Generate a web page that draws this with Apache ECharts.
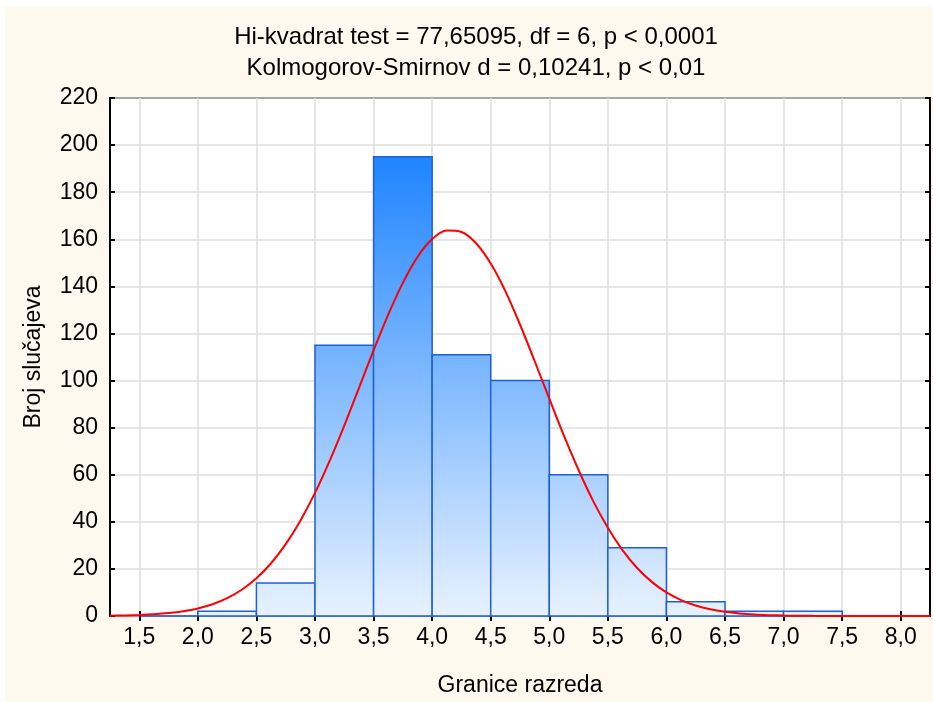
<!DOCTYPE html>
<html>
<head>
<meta charset="utf-8">
<script src="https://cdn.jsdelivr.net/npm/echarts@6/dist/echarts.min.js"></script>
<style>
html,body{margin:0;padding:0;background:#fff;}
#chart{width:933px;height:702px;}
</style>
</head>
<body>
<div id="chart"></div>
<script>
// Histogram bins (lower bound, upper bound) and counts
var binStart = [1.5, 2.0, 2.5, 3.0, 3.5, 4.0, 4.5, 5.0, 5.5, 6.0, 6.5, 7.0];
var binEnd   = [2.0, 2.5, 3.0, 3.5, 4.0, 4.5, 5.0, 5.5, 6.0, 6.5, 7.0, 7.5];
var counts   = [0, 2, 14, 115, 195, 111, 100, 60, 29, 6, 2, 2];

// Expected normal curve (x step 0.125)
var curveX = [1.25, 1.375, 1.5, 1.625, 1.75, 1.875, 2.0, 2.125, 2.25, 2.375, 2.5, 2.625, 2.75, 2.875,
              3.0, 3.125, 3.25, 3.375, 3.5, 3.625, 3.75, 3.875, 4.0, 4.125, 4.25, 4.375, 4.5, 4.625,
              4.75, 4.875, 5.0, 5.125, 5.25, 5.375, 5.5, 5.625, 5.75, 5.875, 6.0, 6.125, 6.25, 6.375,
              6.5, 6.625, 6.75, 6.875, 7.0, 7.125, 7.25, 7.375, 7.5, 7.625, 7.75, 7.875, 8.0, 8.125, 8.25];
var curveY = [0.13, 0.24, 0.43, 0.74, 1.24, 2.02, 3.22, 5.0, 7.56, 11.14, 16.0, 22.4, 30.5, 40.5,
              52.3, 65.9, 80.9, 96.8, 112.8, 128.0, 141.5, 152.5, 160.1, 163.7, 163.1, 158.3, 149.7, 138.0,
              123.8, 108.3, 92.3, 76.6, 62.0, 48.8, 37.5, 28.0, 20.4, 14.5, 10.0, 6.75, 4.43, 2.83,
              1.77, 1.07, 0.63, 0.37, 0.21, 0.11, 0.06, 0.03, 0.02, 0.01, 0, 0, 0, 0, 0];

// Axis ticks
var xTicks = [1.5, 2.0, 2.5, 3.0, 3.5, 4.0, 4.5, 5.0, 5.5, 6.0, 6.5, 7.0, 7.5, 8.0];
var xMin = 1.25, xMax = 8.25;
var yMin = 0, yMax = 220, yStep = 20;

var titleLines = ['Hi-kvadrat test = 77,65095, df = 6, p < 0,0001', 'Kolmogorov-Smirnov d = 0,10241, p < 0,01'];
var xName = 'Granice razreda';
var yName = 'Broj slučajeva';

var FONT = '"Liberation Sans", Arial, sans-serif';
var FS = 23;

var barData = binStart.map(function (s, i) { return [s, binEnd[i], counts[i]]; });
var curveData = curveX.map(function (x, i) { return [x, curveY[i]]; });

var barFill = {
  type: 'linear', x: 0, y: 156, x2: 0, y2: 617, global: true,
  colorStops: [{offset: 0, color: '#1e84ff'}, {offset: 1, color: '#e8f2ff'}]
};

var chart = echarts.init(document.getElementById('chart'), null, {renderer: 'canvas'});
chart.setOption({
  backgroundColor: '#ffffff',
  animation: false,
  graphic: [{
    type: 'rect', z: -100, silent: true,
    shape: {x: 5, y: 7, width: 928, height: 695},
    style: {fill: '#fdf9ef'}
  }],
  title: {
    text: titleLines.join('\n'),
    left: 471, top: 17, textAlign: 'center',
    textStyle: {fontFamily: FONT, fontSize: 24, fontWeight: 'normal', color: '#000', lineHeight: 31}
  },
  grid: {
    left: 110, right: 3, top: 98, bottom: 85,
    show: true, backgroundColor: '#ffffff', borderColor: '#000', borderWidth: 2
  },
  xAxis: [{
    type: 'value', min: xMin, max: xMax, position: 'bottom',
    axisLine: {show: false},
    axisTick: {show: true, inside: true, length: 5, customValues: xTicks, lineStyle: {color: '#000', width: 2}},
    axisLabel: {customValues: xTicks, formatter: function (v) { return v.toFixed(1).replace('.', ','); },
      fontFamily: FONT, fontSize: FS, color: '#000', margin: 10},
    splitLine: {show: true, lineStyle: {color: '#dedede', width: 1.5}},
    name: xName, nameLocation: 'middle', nameGap: 58,
    nameTextStyle: {fontFamily: FONT, fontSize: FS, color: '#000'}
  }, {
    type: 'value', min: xMin, max: xMax, position: 'top',
    axisLine: {show: false},
    axisTick: {show: true, inside: true, length: 5, customValues: xTicks, lineStyle: {color: '#000', width: 2}},
    axisLabel: {show: false, customValues: xTicks},
    splitLine: {show: false}
  }],
  yAxis: [{
    type: 'value', min: yMin, max: yMax, interval: yStep, position: 'left',
    axisLine: {show: false},
    axisTick: {show: true, inside: true, length: 5, lineStyle: {color: '#000', width: 2}},
    axisLabel: {fontFamily: FONT, fontSize: FS, color: '#000', margin: 12},
    splitLine: {show: true, lineStyle: {color: '#dedede', width: 1.5}},
    name: yName, nameLocation: 'middle', nameGap: 65, nameRotate: 90,
    nameTextStyle: {fontFamily: FONT, fontSize: FS, color: '#000'}
  }, {
    type: 'value', min: yMin, max: yMax, interval: yStep, position: 'right',
    axisLine: {show: false},
    axisTick: {show: true, inside: true, length: 5, lineStyle: {color: '#000', width: 2}},
    axisLabel: {show: false},
    splitLine: {show: false}
  }],
  series: [{
    type: 'custom',
    xAxisIndex: 0, yAxisIndex: 0,
    data: barData,
    encode: {x: [0, 1], y: 2},
    renderItem: function (params, api) {
      var p1 = api.coord([api.value(0), api.value(2)]);
      var p2 = api.coord([api.value(1), 0]);
      return {
        type: 'rect',
        shape: {x: p1[0], y: p1[1], width: p2[0] - p1[0], height: p2[1] - p1[1]},
        style: {fill: barFill, stroke: '#1f5fd8', lineWidth: 1.5}
      };
    },
    z: 2
  }, {
    type: 'line',
    xAxisIndex: 0, yAxisIndex: 0,
    data: curveData,
    smooth: 0.3,
    showSymbol: false, symbol: 'none',
    lineStyle: {color: '#ff0000', width: 2},
    z: 3
  }]
});
</script>
</body>
</html>
